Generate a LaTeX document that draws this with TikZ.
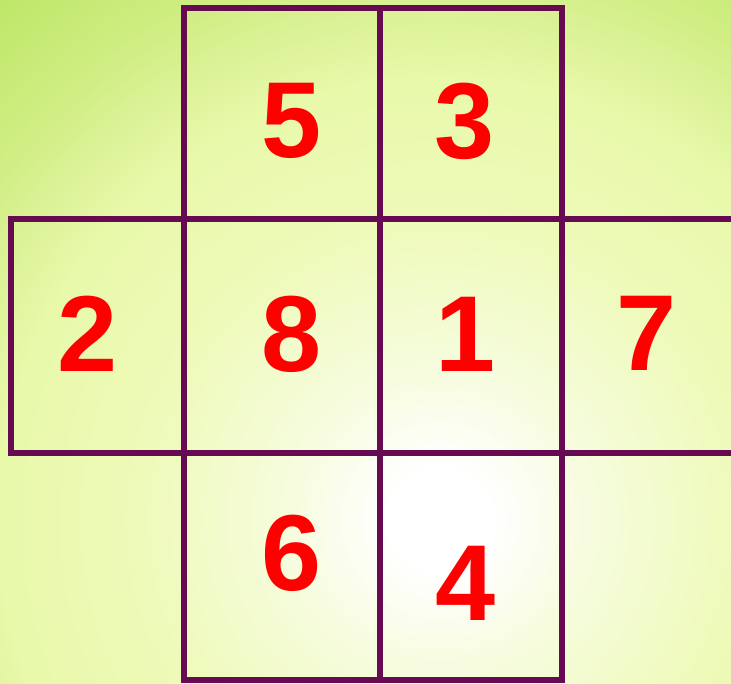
\documentclass[tikz,border=0pt]{standalone}
\usepackage{fontspec}
\setmainfont{Liberation Sans}
\definecolor{gridline}{RGB}{102,10,82}
\definecolor{digit}{RGB}{255,0,0}
\definecolor{bgA}{RGB}{255,255,255}
\definecolor{bgB}{RGB}{246,252,222}
\definecolor{bgC}{RGB}{238,250,185}
\definecolor{bgD}{RGB}{232,249,170}
\definecolor{bgE}{RGB}{220,242,152}
\definecolor{bgF}{RGB}{208,238,132}
\definecolor{bgG}{RGB}{190,231,104}
\pgfdeclareradialshading{bgshade}{\pgfpoint{0bp}{0bp}}{color(0bp)=(bgA); color(50bp)=(bgA); color(150bp)=(bgB); color(300bp)=(bgC); color(440bp)=(bgD); color(500bp)=(bgE); color(560bp)=(bgF); color(680bp)=(bgG); color(760bp)=(bgG)}
\tikzset{
  gridpen/.style={draw=gridline, line width=6pt, line cap=rect},
  num/.style={text=digit, font=\fontsize{108}{108}\selectfont\bfseries, inner sep=0pt, anchor=center}
}
\begin{document}
\begin{tikzpicture}[x=1pt,y=-1pt]
\useasboundingbox (0,0) rectangle (731,684);
\begin{scope}
\clip (0,0) rectangle (731,684);
\pgftext[at={\pgfpointxy{440}{520}}]{\pgfuseshading{bgshade}}
\end{scope}
% coordinates of grid
\coordinate (a1) at (184,8);   \coordinate (a2) at (380,8);   \coordinate (a3) at (562,8);
\coordinate (b0) at (11,219);  \coordinate (b1) at (184,219); \coordinate (b4) at (735,219);
\coordinate (c0) at (11,453);  \coordinate (c1) at (184,453); \coordinate (c4) at (735,453);
\coordinate (d1) at (184,680); \coordinate (d2) at (380,680); \coordinate (d3) at (562,680);
\begin{scope}
\clip (0,0) rectangle (731,684);
\draw[gridpen] (a1) -- (a3);
\draw[gridpen] (b0) -- (b4);
\draw[gridpen] (c0) -- (c4);
\draw[gridpen] (d1) -- (d3);
\draw[gridpen] (a1) -- (d1);
\draw[gridpen] (a2) -- (d2);
\draw[gridpen] (a3) -- (d3);
\draw[gridpen] (b0) -- (c0);
\end{scope}
\node[num] (n5) at (292,121) {5};
\node[num] (n3) at (465,121) {3};
\node[num] (n2) at (88,334) {2};
\node[num] (n8) at (292,334) {8};
\node[num] (n1) at (466,334) {1};
\node[num] (n7) at (647,333) {7};
\node[num] (n6) at (292,553) {6};
\node[num] (n4) at (466,583) {4};
\end{tikzpicture}
\end{document}
